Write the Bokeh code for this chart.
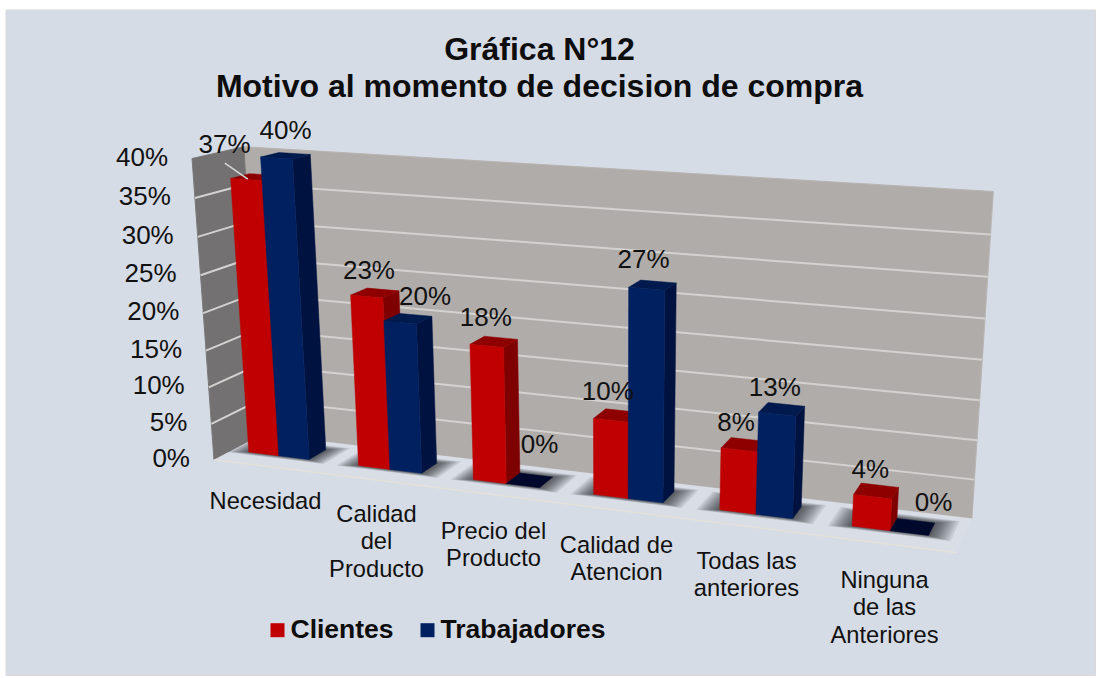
import numpy as np
from bokeh.embed import file_html
from bokeh.resources import INLINE
from bokeh.plotting import figure
from bokeh.models import Range1d
from bokeh.core.properties import value

# ---- data ----
categories = ["Necesidad", "Calidad\ndel\nProducto", "Precio del\nProducto",
              "Calidad de\nAtencion", "Todas las\nanteriores", "Ninguna\nde las\nAnteriores"]
clientes = [37, 23, 18, 10, 8, 4]
trabajadores = [40, 20, 0, 27, 13, 0]
y_ticks = [0, 5, 10, 15, 20, 25, 30, 35, 40]
series_names = ["Clientes", "Trabajadores"]
title_lines = ["Gráfica N°12", "Motivo al momento de decision de compra"]

# ---- layout / style ----
FONT = value("Liberation Sans")
X0, Y0 = 0, 0
W, H = 1096, 676
BG = "#D6DCE5"
RED, RED_DK, RED_TOP = "#C00000", "#7F0000", "#8E0000"
BLUE, BLUE_DK, BLUE_TOP = "#002060", "#001340", "#001A4D"
# (category axis 0..6, depth 0..1, value 0..40) -> screen calibration of the 3-D box
calib = [((0, 0, 0), (212, 455)), ((0, 1, 0), (263, 438)), ((6, 1, 0), (971, 517)), ((6, 0, 0), (957, 553)),
         ((0, 0, 40), (192, 157)), ((0, 1, 40), (243, 147)), ((6, 1, 40), (992, 186)), ((6, 0, 40), (979, 213))]
GAP = 0.22
D0, D1 = 0.37, 0.74
rows = []
for (X, Y, Z), (sx, sy) in calib:
    v = [X / 6, Y, Z / 40, 1]
    rows.append(v + [0, 0, 0, 0] + [-sx * c for c in v])
    rows.append([0, 0, 0, 0] + v + [-sy * c for c in v])
M = np.linalg.svd(np.array(rows, float))[2][-1].reshape(3, 4)


def P(cat, depth, val):
    h = M @ np.array([cat / 6, depth, val / 40, 1.0])
    return h[0] / h[2], h[1] / h[2]


def poly(pts):
    xy = [P(*t) for t in pts]
    return [a for a, _ in xy], [b for _, b in xy]


def slot(c):
    return c * 1.008 - 0.065


p = figure(width=W, height=H, x_range=Range1d(X0, X0 + W), y_range=Range1d(Y0 + H, Y0),
           toolbar_location=None, output_backend="svg", min_border=0,
           background_fill_color="white", border_fill_color="white", outline_line_color=None)
p.axis.visible = False
p.grid.visible = False

# chart area
p.quad(left=5.5, right=1095, top=9.5, bottom=675, fill_color=BG, line_color="#D9D9D9", line_width=1)

# walls
xs, ys = poly([(0, 1, 0), (6, 1, 0), (6, 1, 40), (0, 1, 40)])
p.patch(xs, ys, fill_color="#B0ACAA", line_color="#B8B4B2", line_width=1)
xs, ys = poly([(0, 0, 0), (0, 1, 0), (0, 1, 40), (0, 0, 40)])
p.patch(xs, ys, fill_color="#737171", line_color="#7A7878", line_width=1)
# floor
xs, ys = poly([(0, 0, 0), (6, 0, 0), (6, 1, 0), (0, 1, 0)])
p.patch(xs, ys, fill_color="#D8DDE6", line_color=None)
xs, ys = poly([(0, 0, 0), (6, 0, 0)])
p.line(xs, ys, line_color="#E4E0DA", line_width=1.5)
# gridlines
for t in y_ticks[1:-1]:
    xs, ys = poly([(0, 0, t), (0, 1, t), (6, 1, t)])
    p.line(xs, ys, line_color="#D4D2D0", line_width=2)

# shadows on the floor
for c in range(len(categories)):
    s = slot(c)
    for k in range(10, 0, -1):
        e = 0.012 * k
        xs, ys = poly([(s + GAP - e * 1.4, D0 - e * 0.7, 0), (s + 1 - GAP + e * 1.4, D0 - e * 0.7, 0),
                       (s + 1 - GAP + e * 1.4, D1 + e * 1.2, 0), (s + GAP - e * 1.4, D1 + e * 1.2, 0)])
        p.patch(xs, ys, fill_color="black", fill_alpha=0.08, line_color=None)


def bar(x0, x1, v, front, side, top):
    if v > 0:
        xs, ys = poly([(x1, D0, 0), (x1, D1, 0), (x1, D1, v), (x1, D0, v)])
        p.patch(xs, ys, fill_color=side, line_color=side, line_width=0.5)
    xs, ys = poly([(x0, D0, v), (x1, D0, v), (x1, D1, v), (x0, D1, v)])
    p.patch(xs, ys, fill_color=top if v > 0 else "#00092B", line_color=top if v > 0 else "#00092B", line_width=0.5)
    if v > 0:
        xs, ys = poly([(x0, D0, 0), (x1, D0, 0), (x1, D0, v), (x0, D0, v)])
        p.patch(xs, ys, fill_color=front, line_color=front, line_width=0.5)


for c in range(len(categories)):
    s = slot(c)
    bar(s + GAP, s + 0.5, clientes[c], RED, RED_DK, RED_TOP)
    bar(s + 0.5, s + 1 - GAP, trabajadores[c], BLUE, BLUE_DK, BLUE_TOP)

# value labels: offset from the centre of each bar's top
red_off = [(-31, -33), (-6, -23), (-8, -25), (-9, -24), (-8, -23), (-6, -22)]
blue_off = [(0, -26), (17, -23), (10, -36), (-9, -26), (-7, -22), (21, -25)]
lx, ly, lt = [], [], []
for c in range(len(categories)):
    s = slot(c)
    for vals, off, a, b in ((clientes, red_off, s + GAP, s + 0.5), (trabajadores, blue_off, s + 0.5, s + 1 - GAP)):
        ax, ay = P((a + b) / 2, (D0 + D1) / 2, vals[c])
        lx.append(ax + off[c][0]); ly.append(ay + off[c][1]); lt.append(f"{vals[c]}%")
p.text(lx, ly, text=lt, text_font=FONT, text_font_size="26px", text_color="#111111",
       text_align="center", text_baseline="middle")

# leader line of first label
ax, ay = P(slot(0) + GAP + 0.1, D0, clientes[0])
p.line([ax - 17, ax + 6], [ay - 16, ay], line_color="#D9D9D9", line_width=1.5)

# value axis labels
tx, ty = [], []
for t in y_ticks:
    ex, ey = P(0, 0, t)
    tx.append(ex - 24); ty.append(ey - 2)
p.text(tx, ty, text=[f"{t}%" for t in y_ticks], text_font=FONT, text_font_size="26px",
       text_color="#111111", text_align="right", text_baseline="middle")

# category labels
cat_x = [265, 376, 493, 616, 746, 884]
cat_y = [500, 513, 530, 544, 560, 579]
for c, lab in enumerate(categories):
    parts = lab.split("\n")
    p.text([cat_x[c]] * len(parts), [cat_y[c] + i * 27.7 for i in range(len(parts))], text=parts,
           text_font=FONT, text_font_size="23.7px", text_color="#111111",
           text_align="center", text_baseline="middle")

# title
p.text([539, 539], [48, 85], text=title_lines, text_font=FONT, text_font_size="32px",
       text_font_style="bold", text_color="#0D0D0D", text_align="center", text_baseline="middle")

# legend
leg_x = [270, 420]
p.rect([x + 7 for x in leg_x], [629.7, 629.7], width=14, height=14, fill_color=[RED, BLUE], line_color=None)
p.text([x + 20 for x in leg_x], [628, 628], text=series_names, text_font=FONT, text_font_size="26.5px",
       text_font_style="bold", text_color="#0D0D0D", text_align="left", text_baseline="middle")

open("out.html", "w").write(file_html(p, INLINE))
